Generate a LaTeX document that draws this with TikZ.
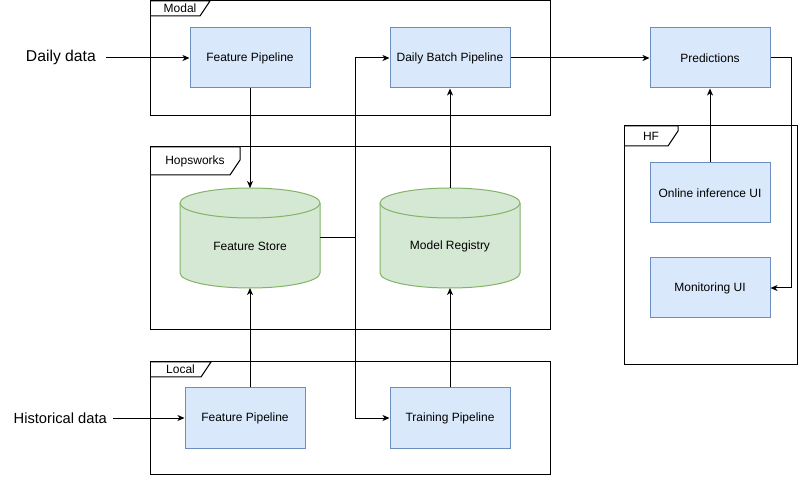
\documentclass[tikz,border=0pt]{standalone}
\usepackage{fontspec}
\setmainfont{Liberation Sans}
\usetikzlibrary{arrows.meta,calc}
\definecolor{BoxClr}{HTML}{DAE8FC}
\definecolor{BoxLineClr}{HTML}{6C8EBF}
\definecolor{DbClr}{HTML}{D5E8D4}
\definecolor{DbLineClr}{HTML}{82B366}

\newcommand\umlTab[5]{%
\draw[line width=1pt] (#1.north west) ++(0,-#4) -- ++(#3-10,0) -- ++(10,15) |- (#1.north west);
\node[tablbl] (#2) at ($(#1.north west)+(#3/2,-#4/2)$) {#5};}

\newcommand\dbShape[1]{%
\filldraw[dbline] ([yshift=-15pt]#1.north west) -- ([yshift=15pt]#1.south west)
  arc[start angle=180,end angle=360,x radius=70pt,y radius=15pt]
  -- ([yshift=-15pt]#1.north east)
  arc[start angle=0,end angle=180,x radius=70pt,y radius=15pt] -- cycle;
\draw[dbline] ([yshift=-15pt]#1.north west)
  arc[start angle=180,end angle=360,x radius=70pt,y radius=15pt];}

\begin{document}
\begin{tikzpicture}[x=1pt,y=1pt,
  frame/.style={draw,line width=1pt,outer sep=0pt},
  tablbl/.style={font=\fontsize{12}{14}\selectfont,inner sep=0pt},
  box/.style={draw=BoxLineClr,fill=BoxClr,line width=1pt,minimum width=120,minimum height=60,font=\fontsize{12}{14}\selectfont},
  dbarea/.style={minimum width=140,minimum height=100,inner sep=0pt,outer sep=0pt},
  dbline/.style={draw=DbLineClr,fill=DbClr,line width=1pt},
  arr/.style={line width=1pt,-{Stealth[length=7pt,width=6pt,inset=2pt]}},
  line/.style={line width=1pt}]
\useasboundingbox (0,0) rectangle (799,476);

\node[frame,minimum width=400,minimum height=115] (modal) at (350,417.5) {};
\node[frame,minimum width=400,minimum height=183] (hops) at (350,237.5) {};
\node[frame,minimum width=400,minimum height=112] (local) at (350,58) {};
\node[frame,minimum width=173,minimum height=239] (hf) at (710.5,230.5) {};
\umlTab{modal}{modaltab}{60}{15}{Modal}
\umlTab{hops}{hopstab}{90}{28}{Hopsworks}
\umlTab{local}{localtab}{61}{15}{Local}
\umlTab{hf}{hftab}{54}{20}{HF}

\node[box] (mfp) at (250,418) {Feature Pipeline};
\node[box] (dbp) at (450,418) {Daily Batch Pipeline};
\node[box] (pred) at (710,418) {Predictions};
\node[box] (oui) at (710,283) {Online inference UI};
\node[box] (mui) at (710,188) {Monitoring UI};
\node[box] (lfp) at (245,58) {Feature Pipeline};
\node[box] (tp) at (450,58) {Training Pipeline};

\node[dbarea] (fs) at (250,238) {};
\node[dbarea] (mr) at (450,238) {};
\dbShape{fs}
\dbShape{mr}
\node[font=\fontsize{12}{14}\selectfont] (fstxt) at (250,230) {Feature Store};
\node[font=\fontsize{12}{14}\selectfont] (mrtxt) at (450,230) {Model Registry};

\node[font=\fontsize{15.7}{18}\selectfont,inner sep=0pt,anchor=east] (daily) at (96,419) {Daily data};
\node[font=\fontsize{14.7}{17}\selectfont,inner sep=0pt,anchor=east] (hist) at (107,58) {Historical data};

\coordinate (split) at (355,238);
\coordinate (bend) at (791,418);

\draw[arr] ([xshift=10pt]daily.east |- mfp) -- (mfp);
\draw[arr] ([xshift=6pt]hist.east |- lfp) -- (lfp);
\draw[arr] (mfp) -- (fs.north);
\draw[arr] (fs.south |- lfp.north) -- (fs.south);
\draw[line] (fs.east) -- (split);
\draw[arr] (split) |- (dbp);
\draw[arr] (split) |- (tp);
\draw[arr] (tp) -- (mr.south);
\draw[arr] (mr.north) -- (dbp);
\draw[arr] (dbp) -- (pred);
\draw[arr] (oui) -- (pred);
\draw[arr] (pred.east) -- (bend) |- (mui.east);
\end{tikzpicture}
\end{document}
